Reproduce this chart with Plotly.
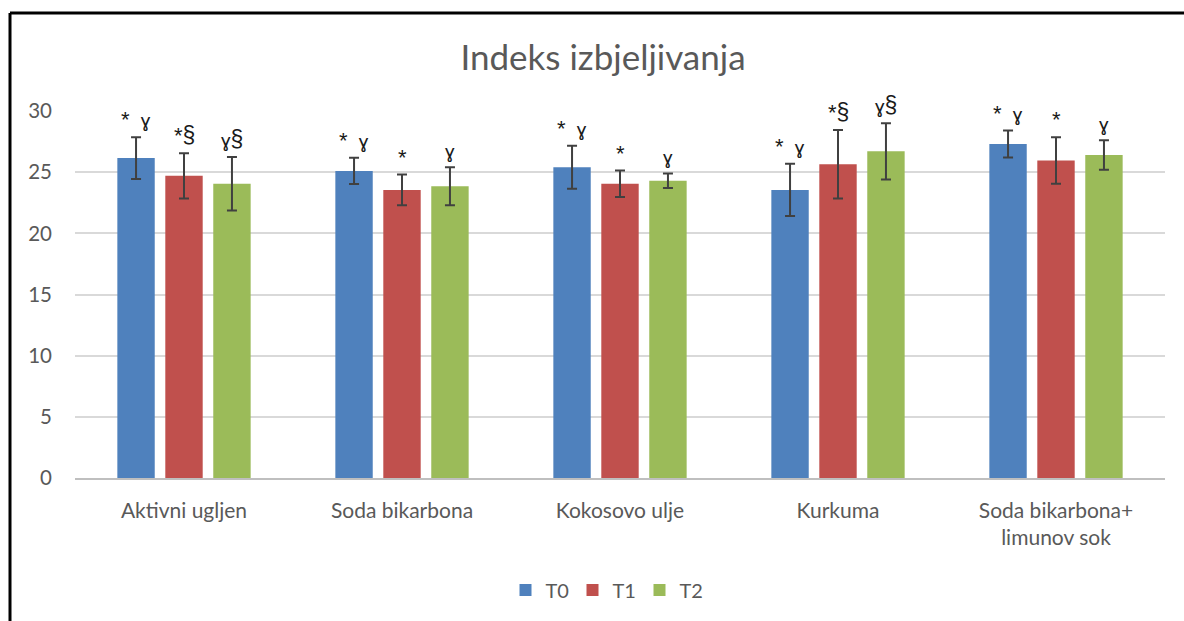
import plotly.graph_objects as go

categories = ["Aktivni ugljen", "Soda bikarbona", "Kokosovo ulje", "Kurkuma", "Soda bikarbona+<br>limunov sok"]
series_names = ["T0", "T1", "T2"]
t0 = [26.15, 25.1, 25.4, 23.55, 27.3]
t1 = [24.7, 23.55, 24.05, 25.65, 25.95]
t2 = [24.05, 23.85, 24.3, 26.7, 26.4]
t0_err = [1.7, 1.07, 1.75, 2.14, 1.1]
t1_err = [1.85, 1.25, 1.08, 2.8, 1.9]
t2_err = [2.18, 1.55, 0.6, 2.3, 1.2]
t0_marks = ["* ɣ", "* ɣ", "* ɣ", "* ɣ", "* ɣ"]
t1_marks = ["*§", "*", "*", "*§", "*"]
t2_marks = ["ɣ§", "ɣ", "ɣ", "ɣ§", "ɣ"]
y_ticks = [0, 5, 10, 15, 20, 25, 30]

colors = ["#4f81bd", "#c0504d", "#9bbb59"]
values = [t0, t1, t2]
errors = [t0_err, t1_err, t2_err]
marks = [t0_marks, t1_marks, t2_marks]

bargap = 0.34
n = len(series_names)
slot = (1 - bargap) / n
xs = list(range(len(categories)))


def styled(mark):
    out = ""
    for ch in mark:
        if ch == "*":
            out += "<span style='font-size:22px'>*</span>"
        elif ch == "§":
            out += "<span style='font-size:23px'>§</span>"
        elif ch == "ɣ":
            out += "<span style='font-size:19px'>ɣ</span>"
        else:
            out += "&nbsp;&nbsp;"
    return out


fig = go.Figure()
for k in range(n):
    fig.add_trace(go.Bar(
        x=xs, y=values[k], name=series_names[k],
        marker=dict(color=colors[k], line=dict(width=0)),
        error_y=dict(type="data", array=errors[k], visible=True,
                     color="#404040", thickness=2, width=5),
    ))

annotations = []
for k in range(n):
    for i in range(len(categories)):
        annotations.append(dict(
            x=i + (k - (n - 1) / 2) * slot, y=values[k][i] + errors[k][i],
            xref="x", yref="y", text=styled(marks[k][i]), showarrow=False,
            yanchor="bottom", yshift=3,
            font=dict(family="Liberation Sans, Arial", size=20, color="#1a1a1a"),
        ))

fig.update_layout(
    width=1184, height=621,
    paper_bgcolor="white", plot_bgcolor="white",
    margin=dict(l=75, r=19, t=111, b=143),
    barmode="group", bargap=bargap, bargroupgap=0.22,
    title=dict(text="Indeks izbjeljivanja", x=603 / 1184, xanchor="center",
               y=1 - 58 / 621, yanchor="middle",
               font=dict(family="Lato", size=35, color="#595959")),
    font=dict(family="Lato", color="#595959", size=20),
    legend=dict(orientation="h", x=(606 - 75) / 1090, xanchor="center", y=-0.305, yanchor="middle",
                font=dict(size=20, color="#595959"), itemwidth=30,
                entrywidth=22, entrywidthmode="pixels"),
    xaxis=dict(tickmode="array", tickvals=xs, ticktext=categories,
               range=[-0.5, len(categories) - 0.5], showgrid=False,
               showline=True, linecolor="#bfbfbf", linewidth=1.5,
               ticks="", ticklabelstandoff=13, tickfont=dict(size=21)),
    yaxis=dict(range=[0, 30], tickvals=y_ticks, showgrid=True, gridcolor="#d9d9d9",
               gridwidth=1.5, zeroline=False, showline=False, ticks="",
               ticklabelstandoff=22, tickfont=dict(size=20.5)),
    annotations=annotations,
    shapes=[
        dict(type="line", xref="paper", yref="paper", x0=(10 - 75) / 1090, x1=1.1,
             y0=(478 - 13) / 367, y1=(478 - 13) / 367, line=dict(color="black", width=3)),
        dict(type="line", xref="paper", yref="paper", x0=(10 - 75) / 1090, x1=(10 - 75) / 1090,
             y0=(478 - 13) / 367, y1=-0.5, line=dict(color="black", width=3)),
    ],
)
fig.write_html("out.html", config={"displayModeBar": False},
               post_script="document.body.style.margin='0px';")
